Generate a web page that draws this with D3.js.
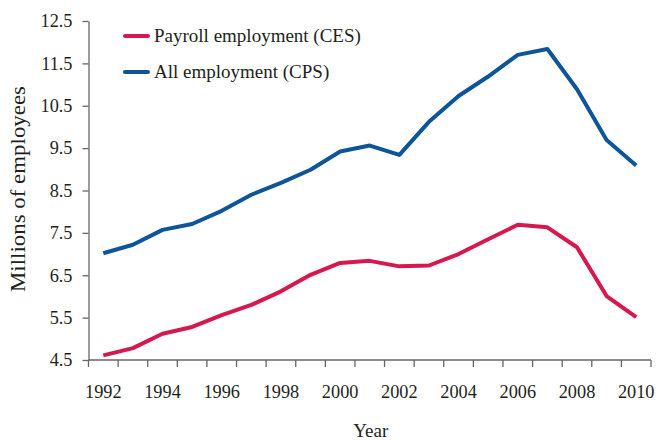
<!DOCTYPE html>
<html><head><meta charset="utf-8">
<script src="https://cdn.jsdelivr.net/npm/d3@7"></script>
<style>body{margin:0;background:#fff}svg{display:block}text{font-family:"Liberation Serif","Times New Roman",serif;fill:#231f20}</style>
</head><body><svg id="c" width="656" height="441"></svg>
<script>
const years = [1992,1993,1994,1995,1996,1997,1998,1999,2000,2001,2002,2003,2004,2005,2006,2007,2008,2009,2010];
const cesValues = [4.61,4.78,5.12,5.28,5.56,5.80,6.12,6.51,6.79,6.84,6.71,6.73,7.00,7.35,7.69,7.63,7.16,6.01,5.51];
const cpsValues = [7.02,7.22,7.57,7.71,8.02,8.40,8.68,8.99,9.42,9.56,9.34,10.12,10.73,11.19,11.70,11.84,10.89,9.69,9.09];
const yTicks = [4.5,5.5,6.5,7.5,8.5,9.5,10.5,11.5,12.5];
const xTickLabels = [1992,1994,1996,1998,2000,2002,2004,2006,2008,2010];
const seriesNames = ["Payroll employment (CES)","All employment (CPS)"];
const seriesColors = ["#d5184d","#0d5499"];

const svg = d3.select("#c");
const L = 88.5, R = 651, T = 21, B = 360;
const x = d3.scaleBand().domain(years).range([L, R]).padding(0);
const y = d3.scaleLinear().domain([4.5, 12.5]).range([B, T]);
const axisColor = "#666";

// Y axis
const ya = svg.append("g").attr("transform", `translate(${L},0)`)
  .call(d3.axisLeft(y).tickValues(yTicks).tickFormat(d3.format(".1f")).tickSize(6).tickSizeOuter(0));
ya.select(".domain").attr("stroke", axisColor).attr("stroke-width", 1.3);
ya.selectAll(".tick line").attr("stroke", axisColor).attr("stroke-width", 1.3);
ya.selectAll(".tick text").attr("font-size", 18.3).attr("x", -16).attr("fill", "#231f20").style("font-family", '"Liberation Serif",serif');

// X axis: ticks at band boundaries
const xa = svg.append("g").attr("transform", `translate(0,${B})`);
xa.append("line").attr("x1", L).attr("x2", R).attr("y1", 0).attr("y2", 0).attr("stroke", axisColor).attr("stroke-width", 1.3);
const bounds = years.map(d => x(d)).concat([x(years[years.length-1]) + x.bandwidth()]);
xa.selectAll("line.tk").data(bounds).enter().append("line").attr("class","tk")
  .attr("x1", d => d).attr("x2", d => d).attr("y1", 0).attr("y2", 7)
  .attr("stroke", axisColor).attr("stroke-width", 1.3);
xa.selectAll("text.lb").data(xTickLabels).enter().append("text").attr("class","lb")
  .attr("x", d => x(d) + x.bandwidth()/2).attr("y", 38).attr("text-anchor","middle")
  .attr("font-size", 18.3).text(d => d);

// Axis titles
svg.append("text").attr("x", (L+R)/2 + 1).attr("y", 437).attr("text-anchor","middle").attr("font-size", 19).text("Year");
svg.append("text").attr("transform", `translate(25,189) rotate(-90)`).attr("text-anchor","middle")
  .attr("font-size", 22).attr("textLength", 206).attr("lengthAdjust","spacingAndGlyphs").text("Millions of employees");

// Lines
const line = d3.line().x((d,i) => x(years[i]) + x.bandwidth()/2).y(d => y(d));
[cesValues, cpsValues].forEach((vals, k) => {
  svg.append("path").datum(vals).attr("d", line).attr("fill","none")
    .attr("stroke", seriesColors[k]).attr("stroke-width", 4).attr("stroke-linejoin","round");
});

// Legend
seriesNames.forEach((name, k) => {
  const ly = 36 + k*36;
  svg.append("line").attr("x1",125).attr("x2",148).attr("y1",ly).attr("y2",ly)
    .attr("stroke", seriesColors[k]).attr("stroke-width",4).attr("stroke-linecap","round");
  svg.append("text").attr("x",154).attr("y",ly+6).attr("font-size",19).text(name);
});
</script></body></html>
